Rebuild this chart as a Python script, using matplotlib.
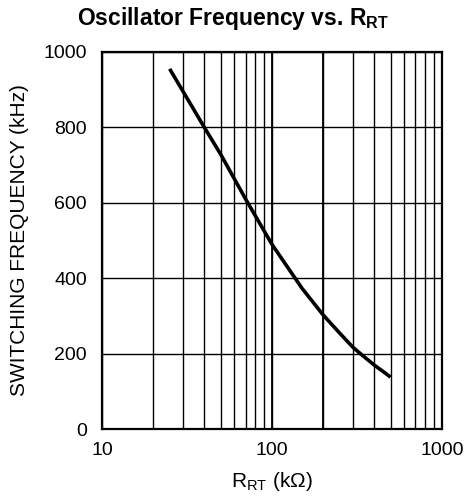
import matplotlib.pyplot as plt
from matplotlib.ticker import FixedLocator, NullFormatter

plt.rcParams['font.family'] = ['Liberation Sans', 'DejaVu Sans']

# curve (kOhm, kHz)
r_rt = [25, 30, 40, 50, 70, 100, 137, 150, 200, 250, 300, 332, 400, 500]
freq = [955, 895, 800, 728, 610, 490, 400, 374, 303, 255, 217, 200, 170, 138]

x_ticks = [10, 100, 1000]
x_tick_labels = ['10', '100', '1000']
y_ticks = [0, 200, 400, 600, 800, 1000]

fig = plt.figure(figsize=(4.66, 4.99), dpi=100)
ax = fig.add_axes([0.219, 0.140, 0.729, 0.756])

ax.set_xscale('log')
ax.set_xlim(10, 1000)
ax.set_ylim(0, 1000)

ax.plot(r_rt, freq, color='black', lw=2.6, solid_capstyle='butt',
        solid_joinstyle='round', zorder=3)

ax.xaxis.set_major_locator(FixedLocator(x_ticks))
ax.set_xticklabels(x_tick_labels)
minor = [m * d for d in (10, 100) for m in range(2, 10)]
ax.xaxis.set_minor_locator(FixedLocator(minor))
ax.xaxis.set_minor_formatter(NullFormatter())
ax.set_yticks(y_ticks)

ax.grid(True, which='both', axis='x', color='black', lw=1.0)
ax.grid(True, which='major', axis='y', color='black', lw=1.0)
# the 100 and 200 lines are a bit heavier in the original
for xv in (100, 200):
    ax.axvline(xv, color='black', lw=1.3)
ax.tick_params(which='both', length=0, labelsize=14)
ax.tick_params(axis='y', pad=11)
ax.tick_params(axis='x', pad=9)
for s in ax.spines.values():
    s.set_linewidth(1.6)

# title is centred on the figure, not the axes
fig.text(0.5, 0.962, 'Oscillator Frequency vs. R$_{\\mathregular{RT}}$',
         fontsize=16.5, fontweight='bold', ha='center', va='center')
ax.set_ylabel('SWITCHING FREQUENCY (kHz)', fontsize=15, labelpad=10)
ax.set_xlabel('R$_{\\mathregular{RT}}$ (k\u03a9)', fontsize=15, labelpad=8)

fig.savefig('out.png')
